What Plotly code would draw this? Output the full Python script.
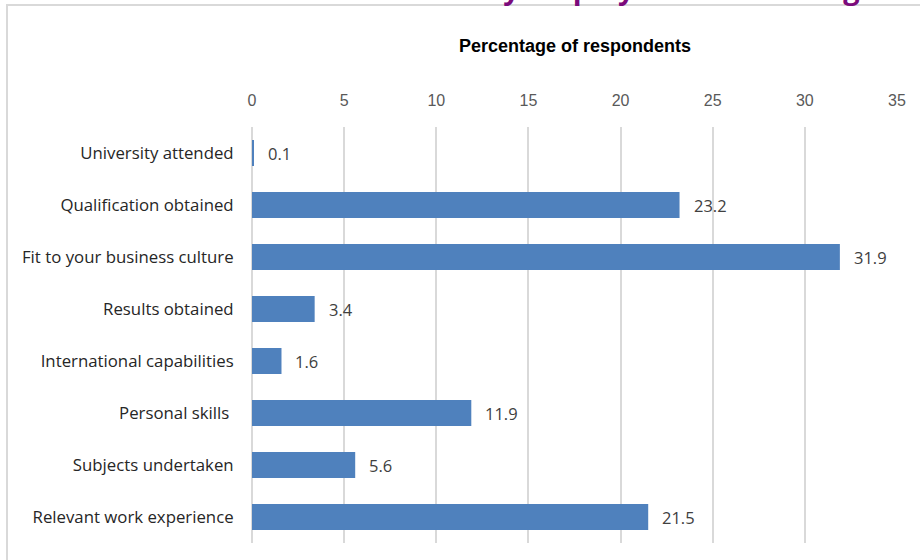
import plotly.graph_objects as go

categories = ["University attended", "Qualification obtained", "Fit to your business culture",
              "Results obtained", "International capabilities", "Personal skills ",
              "Subjects undertaken", "Relevant work experience"]
values = [0.1, 23.2, 31.9, 3.4, 1.6, 11.9, 5.6, 21.5]
tick_vals = [0, 5, 10, 15, 20, 25, 30, 35]
axis_title = "Percentage of respondents"
chart_title = "Factors considered by employers when hiring"

W, H = 920, 560
ml, mr, mt, mb = 252, 23, 127, 17
pw, ph = W - ml - mr, H - mt - mb

fig = go.Figure()
fig.add_trace(go.Bar(
    y=categories, x=values, orientation="h",
    marker=dict(color="#4F81BD", line=dict(width=0)),
    width=0.5, hoverinfo="x+y",
))

for c, v in zip(categories, values):
    fig.add_annotation(x=v, y=c, xref="x", yref="y", text=f"{v:g}", showarrow=False,
                       xanchor="left", xshift=12,
                       font=dict(family="Open Sans, Arial", size=16.5, color="#404040"))

fig.add_annotation(x=0.5, y=1, xref="paper", yref="paper", yshift=81, yanchor="middle",
                   text=f"<b>{axis_title}</b>",
                   showarrow=False, font=dict(family="Arial", size=18, color="#000000"))

# cut-off title above the frame (only descenders visible)
fig.add_annotation(x=(862 - ml) / pw, y=1, xref="paper", yref="paper", yshift=mt - 9,
                   text=f"<b>{chart_title}</b>", showarrow=False, yanchor="bottom", xanchor="right",
                   font=dict(family="Open Sans, Arial", size=29, color="#7B0A7B"))

# outer frame
x0 = (7 - ml) / pw
y1 = 1 + (mt - 5) / ph
fig.add_shape(type="rect", xref="paper", yref="paper", x0=x0, x1=1 + (mr + 20) / pw,
              y0=-(mb + 20) / ph, y1=y1, line=dict(color="#D9D9D9", width=2), layer="below")

fig.update_layout(
    width=W, height=H, margin=dict(l=ml, r=mr, t=mt, b=mb),
    paper_bgcolor="white", plot_bgcolor="white", showlegend=False,
    bargap=0.5,
    xaxis=dict(side="top", range=[0, 35], tickvals=tick_vals, showgrid=True, gridcolor="#D9D9D9",
               gridwidth=1.5, zeroline=True, zerolinecolor="#D9D9D9", zerolinewidth=1.5,
               ticks="outside", ticklen=14, tickcolor="rgba(0,0,0,0)", showline=False,
               tickfont=dict(family="Liberation Sans Narrow, Arial Narrow, Arial", size=16, color="#595959")),
    yaxis=dict(autorange="reversed", showgrid=False, zeroline=False, showline=False,
               ticks="outside", ticklen=14, tickcolor="rgba(0,0,0,0)",
               tickfont=dict(family="Open Sans, Arial", size=16.8, color="#262626")),
)

fig.write_html("out.html")
